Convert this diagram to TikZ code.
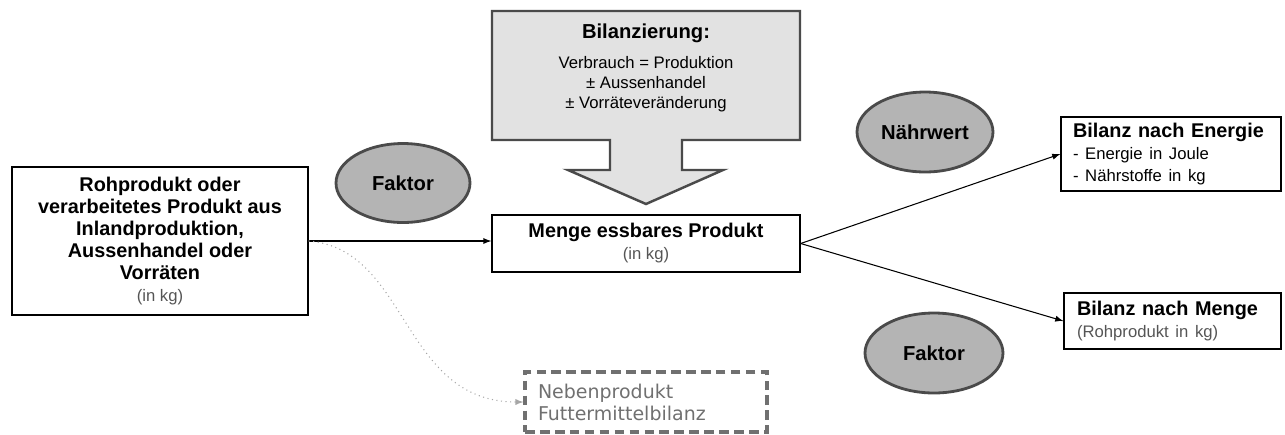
\documentclass[tikz,border=0pt]{standalone}
\usepackage{fontspec}
\setmainfont{Liberation Sans}
\newfontfamily\nebenfont{DejaVu Sans}
\usepackage{xcolor}
\usepackage{tikz}
\usetikzlibrary{shapes.geometric,positioning}
\definecolor{boxgray}{HTML}{E2E2E2}
\definecolor{randgray}{HTML}{4A4A4A}
\definecolor{ovalgray}{HTML}{B4B4B4}
\definecolor{textgray}{HTML}{555555}
\definecolor{dashgray}{HTML}{707070}
\newcommand{\klein}{\fontsize{9.5}{11.3}\selectfont}

\begin{document}
\begin{tikzpicture}[x=0.02cm,y=-0.02cm,
		kasten/.style={draw,line width=0.8pt,align=center,font=\fontsize{11.3}{12.5}\selectfont\bfseries},
		oval/.style={ellipse,draw=randgray,line width=1.6pt,fill=ovalgray,inner sep=0pt,font=\fontsize{11.5}{12.5}\selectfont\bfseries},
		pfeil/.style={-latex,semithick}]
		\useasboundingbox (0,0) rectangle (1285,434);
		\draw[draw=randgray,fill=boxgray,line width=1.4pt] (492,11) -- (800,11) -- (800,140) -- (682,140) -- (682,170) -- (723,170) -- (646,204) -- (568,170) -- (610,170) -- (610,140) -- (492,140) -- cycle;
		\node[align=center,font=\klein] (bilanzierung) at (646,68) {{\fontsize{11.5}{12.5}\selectfont\bfseries Bilanzierung:}\\[6pt]Verbrauch = Produktion\\± Aussenhandel\\± Vorräteveränderung};
		\node[kasten,minimum width=5.92cm,minimum height=2.96cm] (rohprodukt) at (160,241) {Rohprodukt oder\\verarbeitetes Produkt aus\\Inlandproduktion,\\Aussenhandel oder\\Vorräten\\{\mdseries\klein\color{textgray}(in kg)}};
		\node[kasten,minimum width=6.16cm,minimum height=1.14cm] (menge) at (646,243.5) {Menge essbares Produkt\\{\mdseries\klein\color{textgray}(in kg)}};
		\node[kasten,align=left,text width=3.92cm,inner xsep=0.24cm,minimum height=1.48cm] (energie) at (1171,154) {Bilanz nach Energie\\{\mdseries\klein - Energie in Joule}\\{\mdseries\klein - Nährstoffe in kg}};
		\node[kasten,align=left,text width=3.82cm,inner xsep=0.26cm,minimum height=1.12cm] (mengebilanz) at (1172.5,321) {Bilanz nach Menge\\{\mdseries\klein\color{textgray}(Rohprodukt in kg)}};
		\node[draw=dashgray,dash pattern=on 5.5pt off 3pt,line width=1.8pt,text=dashgray,font=\nebenfont\fontsize{10.8}{12.5}\selectfont,align=left,text width=4.32cm,inner xsep=0.26cm,minimum height=1.2cm] (neben) at (646,402) {Nebenprodukt\\Futtermittelbilanz};
		\node[oval,minimum width=2.68cm,minimum height=1.58cm] (faktor1) at (403,183) {Faktor};
		\node[oval,minimum width=2.72cm,minimum height=1.6cm] (naehrwert) at (925,132) {Nährwert};
		\node[oval,minimum width=2.76cm,minimum height=1.6cm] (faktor2) at (934,353) {Faktor};
		\draw[pfeil] (rohprodukt.east) -- (rohprodukt.east -| menge.west);
		\draw[pfeil] (menge.east) -- (energie.west);
		\draw[pfeil] (menge.east) -- (mengebilanz.west);
		\draw[pfeil,dotted,gray!70] (rohprodukt.east) .. controls +(100,8) and +(-122,0) .. (neben.west);
	\end{tikzpicture}
\end{document}
